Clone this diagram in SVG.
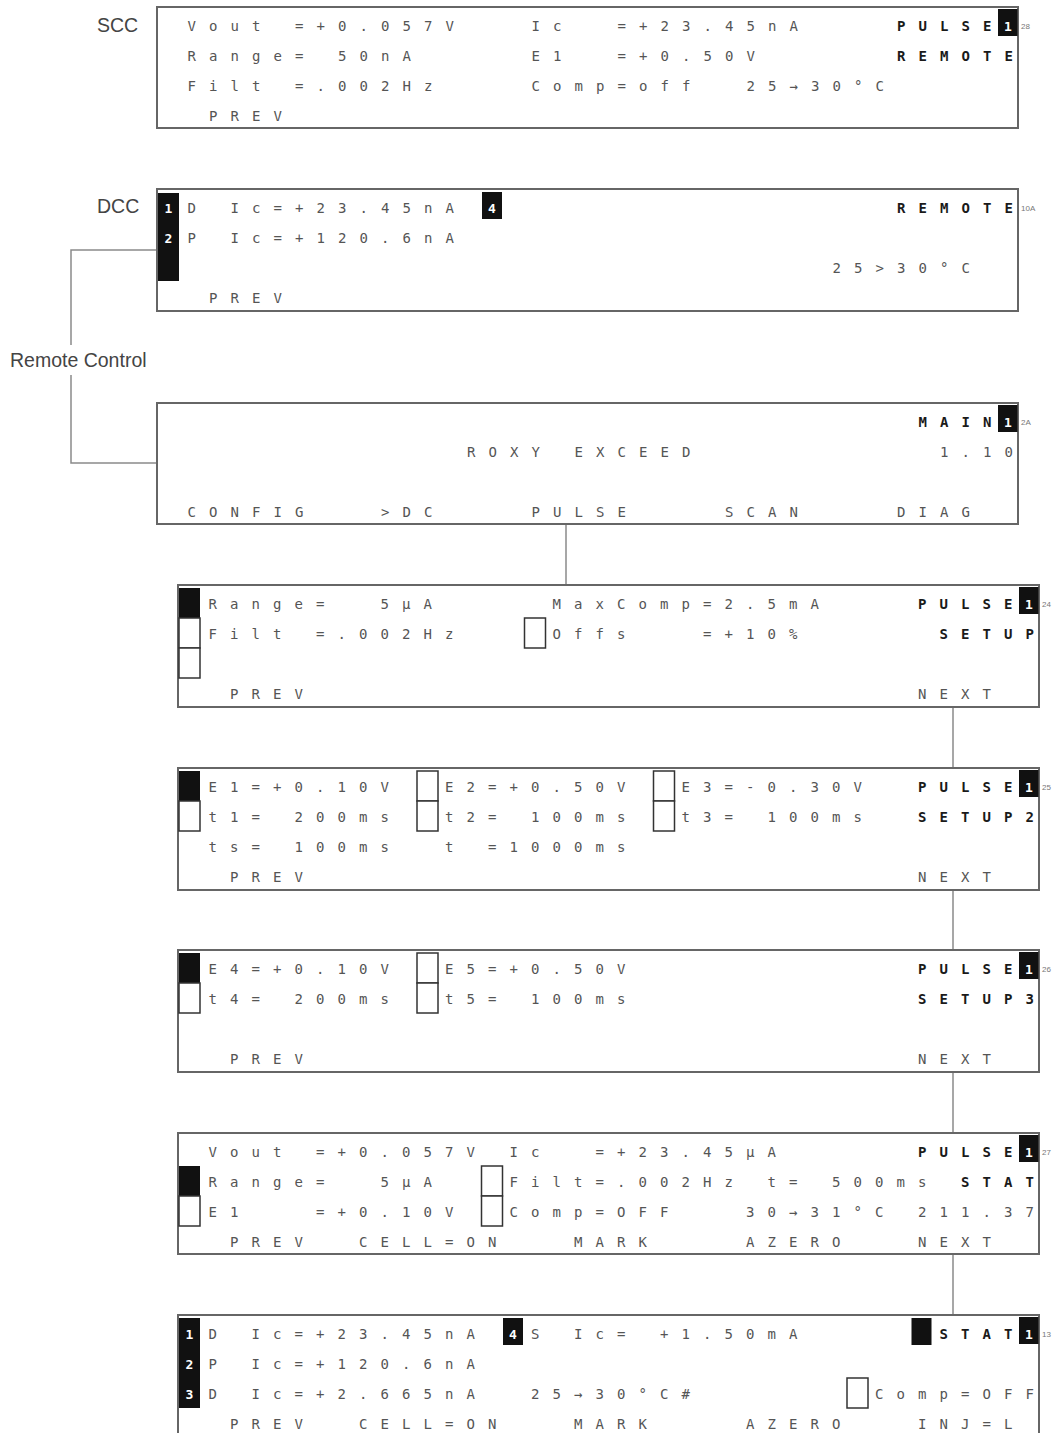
<svg xmlns="http://www.w3.org/2000/svg" width="1060" height="1433" viewBox="0 0 1060 1433" xml:space="preserve">
<style>
.p{fill:#fff;stroke:#666;stroke-width:2}
.t{font-family:"DejaVu Sans Mono",monospace;font-size:14px;letter-spacing:13.07px;fill:#555}
.b{font-weight:bold;fill:#1a1a1a}
.e{letter-spacing:0}
.n{font-family:"DejaVu Sans Mono",monospace;font-size:13px;font-weight:bold;fill:#fff;text-anchor:middle}
.k{fill:#111}
.o{fill:#fff;stroke:#333;stroke-width:1.5}
.s{font-family:"Liberation Sans",Arial,sans-serif;font-size:8px;fill:#777}
.lb{font-family:"Liberation Sans",Arial,sans-serif;font-size:19.5px;fill:#444}
.c{fill:none;stroke:#8a8a8a;stroke-width:1.5}
</style>
<g id="connectors">
<polyline class="c" points="157,250 71,250 71,345"/>
<polyline class="c" points="71,375 71,463 157,463"/>
<line class="c" x1="566" y1="524" x2="566" y2="585"/>
<line class="c" x1="953" y1="707" x2="953" y2="768"/>
<line class="c" x1="953" y1="890" x2="953" y2="950"/>
<line class="c" x1="953" y1="1072" x2="953" y2="1133"/>
<line class="c" x1="953" y1="1254" x2="953" y2="1315"/>
<text class="lb" x="10" y="367">Remote Control</text>
</g>
<g id="scc">
<text class="lb" x="97" y="32">SCC</text>
<rect class="p" x="157" y="7" width="861" height="121"/>
<text class="t" x="187.6" y="31">Vout =+0.057V</text>
<text class="t" x="531.6" y="31">Ic</text>
<text class="t" x="617.6" y="31">=+23.45nA</text>
<text class="t b" x="897.1" y="31">PULSE</text>
<rect class="k" x="998" y="9" width="19.5" height="27"/>
<text class="n" x="1008" y="31">1</text>
<text class="s" x="1021" y="29">28</text>
<text class="t" x="187.6" y="61">Range= 50nA</text>
<text class="t" x="531.6" y="61">E1</text>
<text class="t" x="617.6" y="61">=+0.50V</text>
<text class="t b" x="897.1" y="61">REMOT<tspan class="e">E</tspan></text>
<text class="t" x="187.6" y="91">Filt =.002Hz</text>
<text class="t" x="531.6" y="91">Comp=off</text>
<text class="t" x="746.6" y="91">25→30°C</text>
<text class="t" x="209.1" y="121">PREV</text>
</g>
<g id="dcc">
<text class="lb" x="97" y="213">DCC</text>
<rect class="p" x="157" y="189" width="861" height="122"/>
<rect class="k" x="158" y="193" width="21" height="88"/>
<text class="n" x="168.5" y="213">1</text>
<text class="n" x="168.5" y="243">2</text>
<text class="t" x="187.6" y="213">D</text>
<text class="t" x="230.6" y="213">Ic=+23.45nA</text>
<rect class="k" x="482" y="192" width="20" height="27"/>
<text class="n" x="492" y="213">4</text>
<text class="t b" x="897.1" y="213">REMOT<tspan class="e">E</tspan></text>
<text class="s" x="1021" y="211">10A</text>
<text class="t" x="187.6" y="243">P</text>
<text class="t" x="230.6" y="243">Ic=+120.6nA</text>
<text class="t" x="832.6" y="273">25&gt;30°C</text>
<text class="t" x="209.1" y="303">PREV</text>
</g>
<g id="main">
<rect class="p" x="157" y="403" width="861" height="121"/>
<text class="t b" x="918.6" y="427">MAIN</text>
<rect class="k" x="998" y="405" width="19.5" height="27"/>
<text class="n" x="1008" y="427">1</text>
<text class="s" x="1021" y="425">2A</text>
<text class="t" x="467.1" y="457">ROXY EXCEED</text>
<text class="t" x="940.1" y="457">1.10</text>
<text class="t" x="187.6" y="517">CONFIG</text>
<text class="t" x="381.1" y="517">&gt;DC</text>
<text class="t" x="531.6" y="517">PULSE</text>
<text class="t" x="725.1" y="517">SCAN</text>
<text class="t" x="897.1" y="517">DIAG</text>
</g>
<g id="pulse-setup">
<rect class="p" x="178" y="585" width="861" height="122"/>
<rect class="k" x="179" y="588" width="21" height="30"/>
<rect class="o" x="179" y="618" width="21" height="30"/>
<rect class="o" x="179" y="648" width="21" height="30"/>
<text class="t" x="208.6" y="609">Range=</text>
<text class="t" x="380.6" y="609">5µA</text>
<text class="t" x="552.6" y="609">MaxComp=2.5mA</text>
<text class="t b" x="918.1" y="609">PULSE</text>
<rect class="k" x="1019" y="587" width="19.5" height="27"/>
<text class="n" x="1029" y="609">1</text>
<text class="s" x="1042" y="607">24</text>
<text class="t" x="208.6" y="639">Filt =.002Hz</text>
<rect class="o" x="524.5" y="618" width="21" height="30"/>
<text class="t" x="552.6" y="639">Offs</text>
<text class="t" x="703.1" y="639">=+10%</text>
<text class="t b" x="939.6" y="639">SETU<tspan class="e">P</tspan></text>
<text class="t" x="230.1" y="699">PREV</text>
<text class="t" x="918.1" y="699">NEXT</text>
</g>
<g id="pulse-setup2">
<rect class="p" x="178" y="768" width="861" height="122"/>
<rect class="k" x="179" y="771" width="21" height="30"/>
<rect class="o" x="179" y="801" width="21" height="30"/>
<rect class="o" x="417" y="771" width="21" height="30"/>
<rect class="o" x="417" y="801" width="21" height="30"/>
<rect class="o" x="653.5" y="771" width="21" height="30"/>
<rect class="o" x="653.5" y="801" width="21" height="30"/>
<text class="t" x="208.6" y="792">E1=+0.10V</text>
<text class="t" x="445.1" y="792">E2=+0.50V</text>
<text class="t" x="681.6" y="792">E3=-0.30V</text>
<text class="t b" x="918.1" y="792">PULSE</text>
<rect class="k" x="1019" y="770" width="19.5" height="27"/>
<text class="n" x="1029" y="792">1</text>
<text class="s" x="1042" y="790">25</text>
<text class="t" x="208.6" y="822">t1= 200ms</text>
<text class="t" x="445.1" y="822">t2= 100ms</text>
<text class="t" x="681.6" y="822">t3= 100ms</text>
<text class="t b" x="918.1" y="822">SETUP<tspan class="e">2</tspan></text>
<text class="t" x="208.6" y="852">ts= 100ms</text>
<text class="t" x="445.1" y="852">t =1000ms</text>
<text class="t" x="230.1" y="882">PREV</text>
<text class="t" x="918.1" y="882">NEXT</text>
</g>
<g id="pulse-setup3">
<rect class="p" x="178" y="950" width="861" height="122"/>
<rect class="k" x="179" y="953" width="21" height="30"/>
<rect class="o" x="179" y="983" width="21" height="30"/>
<rect class="o" x="417" y="953" width="21" height="30"/>
<rect class="o" x="417" y="983" width="21" height="30"/>
<text class="t" x="208.6" y="974">E4=+0.10V</text>
<text class="t" x="445.1" y="974">E5=+0.50V</text>
<text class="t b" x="918.1" y="974">PULSE</text>
<rect class="k" x="1019" y="952" width="19.5" height="27"/>
<text class="n" x="1029" y="974">1</text>
<text class="s" x="1042" y="972">26</text>
<text class="t" x="208.6" y="1004">t4= 200ms</text>
<text class="t" x="445.1" y="1004">t5= 100ms</text>
<text class="t b" x="918.1" y="1004">SETUP<tspan class="e">3</tspan></text>
<text class="t" x="230.1" y="1064">PREV</text>
<text class="t" x="918.1" y="1064">NEXT</text>
</g>
<g id="pulse-stat">
<rect class="p" x="178" y="1133" width="861" height="121"/>
<text class="t" x="208.6" y="1157">Vout =+0.057V</text>
<text class="t" x="509.6" y="1157">Ic</text>
<text class="t" x="595.6" y="1157">=+23.45µA</text>
<text class="t b" x="918.1" y="1157">PULSE</text>
<rect class="k" x="1019" y="1135" width="19.5" height="27"/>
<text class="n" x="1029" y="1157">1</text>
<text class="s" x="1042" y="1155">27</text>
<rect class="k" x="179" y="1166" width="21" height="30"/>
<rect class="o" x="179" y="1196" width="21" height="30"/>
<rect class="o" x="481.5" y="1166" width="21" height="30"/>
<rect class="o" x="481.5" y="1196" width="21" height="30"/>
<text class="t" x="208.6" y="1187">Range=</text>
<text class="t" x="380.6" y="1187">5µA</text>
<text class="t" x="509.6" y="1187">Filt=.002Hz</text>
<text class="t" x="767.6" y="1187">t= 500ms</text>
<text class="t b" x="961.1" y="1187">STA<tspan class="e">T</tspan></text>
<text class="t" x="208.6" y="1217">E1</text>
<text class="t" x="316.1" y="1217">=+0.10V</text>
<text class="t" x="509.6" y="1217">Comp=OFF</text>
<text class="t" x="746.1" y="1217">30→31°C</text>
<text class="t" x="918.1" y="1217">211.3<tspan class="e">7</tspan></text>
<text class="t" x="230.1" y="1247">PREV</text>
<text class="t" x="359.1" y="1247">CELL=ON</text>
<text class="t" x="574.1" y="1247">MARK</text>
<text class="t" x="746.1" y="1247">AZERO</text>
<text class="t" x="918.1" y="1247">NEXT</text>
</g>
<g id="stat">
<rect class="p" x="178" y="1315" width="861" height="122"/>
<rect class="k" x="179" y="1318" width="21" height="90"/>
<text class="n" x="189.5" y="1339">1</text>
<text class="n" x="189.5" y="1369">2</text>
<text class="n" x="189.5" y="1399">3</text>
<text class="t" x="208.6" y="1339">D</text>
<text class="t" x="251.6" y="1339">Ic=+23.45nA</text>
<rect class="k" x="503" y="1318" width="20" height="27"/>
<text class="n" x="513" y="1339">4</text>
<text class="t" x="531.1" y="1339">S</text>
<text class="t" x="574.1" y="1339">Ic= +1.50mA</text>
<rect class="k" x="911.5" y="1318" width="20" height="27"/>
<text class="t b" x="939.6" y="1339">STAT</text>
<rect class="k" x="1019" y="1317" width="19.5" height="27"/>
<text class="n" x="1029" y="1339">1</text>
<text class="s" x="1042" y="1337">13</text>
<text class="t" x="208.6" y="1369">P</text>
<text class="t" x="251.6" y="1369">Ic=+120.6nA</text>
<text class="t" x="208.6" y="1399">D</text>
<text class="t" x="251.6" y="1399">Ic=+2.665nA</text>
<text class="t" x="531.1" y="1399">25→30°C#</text>
<rect class="o" x="847" y="1378" width="21" height="30"/>
<text class="t" x="875.1" y="1399">Comp=OF<tspan class="e">F</tspan></text>
<text class="t" x="230.1" y="1429">PREV</text>
<text class="t" x="359.1" y="1429">CELL=ON</text>
<text class="t" x="574.1" y="1429">MARK</text>
<text class="t" x="746.1" y="1429">AZERO</text>
<text class="t" x="918.1" y="1429">INJ=L</text>
</g>
</svg>
